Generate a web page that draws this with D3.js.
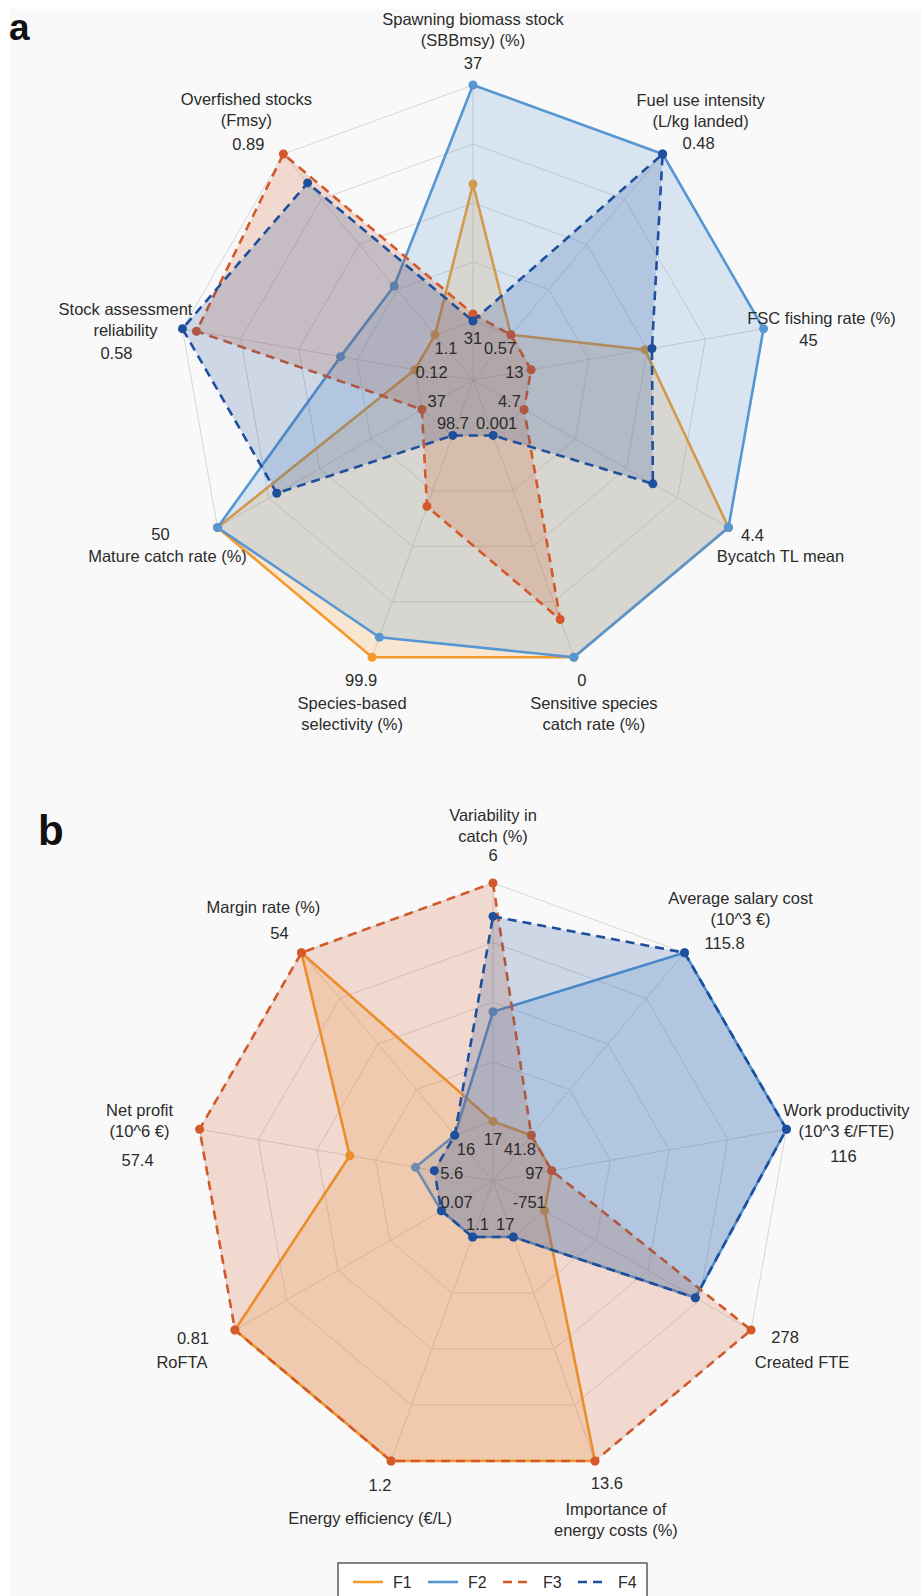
<!DOCTYPE html>
<html>
<head>
<meta charset="utf-8">
<script src="https://cdn.jsdelivr.net/npm/d3@7"></script>
<style>
  body { margin: 0; background: #fff; }
  svg text { font-family: "Liberation Sans", Arial, sans-serif; fill: #2b2b2b; }
</style>
</head>
<body>
<svg id="chart"></svg>
<script>
const width = 921;
const height = 1596;

// Series
const seriesNames = ['F1', 'F2', 'F3', 'F4'];
const seriesColors = ['#f39a2c', '#5696d2', '#d4592a', '#1d4f9c'];
const seriesDashed = [false, false, true, true];

// Panel a: ecological indicators (normalised 0 = worst, 1 = best)
const labelsA = [
    ['Spawning biomass stock', '(SBBmsy) (%)'],
    ['Fuel use intensity', '(L/kg landed)'],
    ['FSC fishing rate (%)'],
    ['Bycatch TL mean'],
    ['Sensitive species', 'catch rate (%)'],
    ['Species-based', 'selectivity (%)'],
    ['Mature catch rate (%)'],
    ['Stock assessment', 'reliability'],
    ['Overfished stocks', '(Fmsy)']
];
const bestA = ['37', '0.48', '45', '4.4', '0', '99.9', '50', '0.58', '0.89'];
const worstA = ['31', '0.57', '13', '4.7', '0.001', '98.7', '37', '0.12', '1.1'];
const f1A = [0.58, 0, 0.49, 1, 1, 1, 1, 0, 0];
const f2A = [1, 1, 1, 1, 1, 0.91, 1, 0.32, 0.27];
const f3A = [0.03, 0, 0, 0, 0.83, 0.32, 0, 0.94, 1];
const f4A = [0, 1, 0.52, 0.63, 0, 0, 0.71, 1, 0.84];

// Panel b: economic indicators
const labelsB = [
    ['Variability in', 'catch (%)'],
    ['Average salary cost', '(10^3 \u20ac)'],
    ['Work productivity', '(10^3 \u20ac/FTE)'],
    ['Created FTE'],
    ['Importance of', 'energy costs (%)'],
    ['Energy efficiency (\u20ac/L)'],
    ['RoFTA'],
    ['Net profit', '(10^6 \u20ac)'],
    ['Margin rate (%)']
];
const bestB = ['6', '115.8', '116', '278', '13.6', '1.2', '0.81', '57.4', '54'];
const worstB = ['17', '41.8', '97', '-751', '17', '1.1', '0.07', '5.6', '16'];
const f1B = [0, 0, 0, 0, 1, 1, 1, 0.36, 1];
const f2B = [0.46, 1, 1, 0.73, 0, 0, 0, 0.08, 0];
const f3B = [1, 0, 0, 1, 1, 1, 1, 1, 1];
const f4B = [0.86, 1, 1, 0.73, 0, 0, 0, 0, 0];

// Label placement relative to each axis tip: name block [dx, dy], value [dx, dy]
const layoutA = [
    { n: [0, -66], v: [0, -22] },
    { n: [38, -54], v: [36, -11] },
    { n: [58, -11], v: [45, 11] },
    { n: [52, 29], v: [24, 8] },
    { n: [20, 46], v: [8, 23] },
    { n: [-20, 46], v: [-11, 23] },
    { n: [-50, 29], v: [-57, 7] },
    { n: [-57, -20], v: [-66, 24] },
    { n: [-37, -55], v: [-35, -10] }
];
const layoutB = [
    { n: [0, -68], v: [0, -28] },
    { n: [56, -55], v: [40, -10] },
    { n: [60, -19], v: [57, 27] },
    { n: [51, 32], v: [34, 7] },
    { n: [21, 48], v: [12, 22] },
    { n: [-21, 57], v: [-11, 24] },
    { n: [-53, 32], v: [-42, 8] },
    { n: [-60, -19], v: [-62, 31] },
    { n: [-38, -46], v: [-22, -20] }
];

const svg = d3.select('#chart')
    .attr('width', width)
    .attr('height', height);

svg.append('rect')
    .attr('x', 10).attr('y', 9)
    .attr('width', width - 10).attr('height', height - 9)
    .attr('fill', '#f9f9f9');

function drawRadar(cfg) {
    const n = cfg.labels.length;
    const g = svg.append('g').attr('transform', `translate(${cfg.cx},${cfg.cy})`);
    const angle = d3.scaleLinear().domain([0, n]).range([0, 2 * Math.PI]);
    const radius = d3.scaleLinear().domain([0, 1]).range([cfg.R / 5, cfg.R]);
    const pt = (i, r) => [r * Math.sin(angle(i)), -r * Math.cos(angle(i))];

    // Grid rings
    const ringLine = d3.lineRadial()
        .angle((d, i) => angle(i))
        .radius(d => radius(d))
        .curve(d3.curveLinearClosed);
    [0, 0.25, 0.5, 0.75, 1].forEach(v => {
        g.append('path')
            .attr('d', ringLine(d3.range(n).map(() => v)))
            .attr('fill', 'none')
            .attr('stroke', '#d6d6d6')
            .attr('stroke-width', 1);
    });
    // Spokes
    g.selectAll('.spoke')
        .data(d3.range(n))
        .enter()
        .append('line')
        .attr('class', 'spoke')
        .attr('x1', 0).attr('y1', 0)
        .attr('x2', i => pt(i, radius(1))[0])
        .attr('y2', i => pt(i, radius(1))[1])
        .attr('stroke', '#d6d6d6')
        .attr('stroke-width', 1);

    // Series, drawn in order so later fills cover earlier lines
    cfg.series.forEach((values, s) => {
        const line = d3.lineRadial()
            .angle((d, i) => angle(i))
            .radius(d => radius(d))
            .curve(d3.curveLinearClosed);
        g.append('path')
            .attr('d', line(values))
            .attr('fill', seriesColors[s])
            .attr('fill-opacity', 0.2)
            .attr('stroke', seriesColors[s])
            .attr('stroke-width', 2.6)
            .attr('stroke-dasharray', seriesDashed[s] ? '9,6' : null)
            .attr('stroke-linejoin', 'round');
        g.selectAll(`.dot${s}`)
            .data(values)
            .enter()
            .append('circle')
            .attr('class', `dot${s}`)
            .attr('cx', (d, i) => pt(i, radius(d))[0])
            .attr('cy', (d, i) => pt(i, radius(d))[1])
            .attr('r', 4.5)
            .attr('fill', seriesColors[s]);
    });

    // Inner (worst) value labels; the two bottom ones sit either side of the centre line
    const bottom = i => Math.cos(angle(i)) < -0.9;
    g.selectAll('.worst')
        .data(cfg.worst)
        .enter()
        .append('text')
        .attr('class', 'worst')
        .attr('x', (d, i) => bottom(i) ? (Math.sin(angle(i)) > 0 ? 3 : -4) : pt(i, 42)[0])
        .attr('y', (d, i) => pt(i, 42)[1] + (bottom(i) ? 4 : 0))
        .attr('dy', '0.35em')
        .attr('text-anchor', (d, i) => bottom(i) ? (Math.sin(angle(i)) > 0 ? 'start' : 'end') : 'middle')
        .attr('font-size', 16.5)
        .text(d => d);

    // Axis names and best values
    cfg.labels.forEach((lines, i) => {
        const [px, py] = pt(i, radius(1));
        const lay = cfg.layout[i];
        const t = g.append('text')
            .attr('text-anchor', 'middle')
            .attr('font-size', 16.5);
        lines.forEach((ln, k) => {
            t.append('tspan')
                .attr('x', px + lay.n[0])
                .attr('y', py + lay.n[1] + k * 21)
                .attr('dy', '0.35em')
                .text(ln);
        });
        g.append('text')
            .attr('x', px + lay.v[0])
            .attr('y', py + lay.v[1])
            .attr('dy', '0.35em')
            .attr('text-anchor', 'middle')
            .attr('font-size', 16.5)
            .text(cfg.best[i]);
    });
}

drawRadar({
    cx: 473, cy: 380, R: 295,
    labels: labelsA, best: bestA, worst: worstA, layout: layoutA,
    series: [f1A, f2A, f3A, f4A]
});
drawRadar({
    cx: 493, cy: 1181, R: 298,
    labels: labelsB, best: bestB, worst: worstB, layout: layoutB,
    series: [f1B, f2B, f3B, f4B]
});

// Panel letters
svg.append('text').attr('x', 9).attr('y', 40)
    .attr('font-size', 37).attr('font-weight', 'bold')
    .style('fill', '#111').text('a');
svg.append('text').attr('x', 38).attr('y', 845)
    .attr('font-size', 42).attr('font-weight', 'bold')
    .style('fill', '#111').text('b');

// Legend
const legend = svg.append('g').attr('transform', 'translate(338,1563)');
legend.append('rect')
    .attr('width', 309).attr('height', 34)
    .attr('fill', '#fff').attr('stroke', '#333').attr('stroke-width', 1.2);
const legendX = [15, 90, 165, 240];
seriesNames.forEach((name, s) => {
    legend.append('line')
        .attr('x1', legendX[s]).attr('x2', legendX[s] + 30)
        .attr('y1', 19).attr('y2', 19)
        .attr('stroke', seriesColors[s])
        .attr('stroke-width', 2.6)
        .attr('stroke-dasharray', seriesDashed[s] ? '9,6' : null);
    legend.append('text')
        .attr('x', legendX[s] + 40).attr('y', 19)
        .attr('dy', '0.35em')
        .attr('font-size', 16)
        .text(name);
});
</script>
</body>
</html>
